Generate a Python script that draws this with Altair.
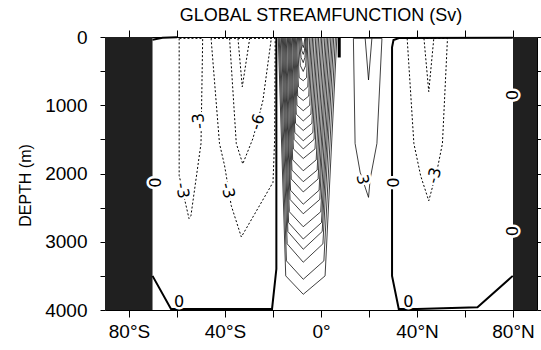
import altair as alt
import pandas as pd

FONT = "Liberation Sans"
LFONT = "DejaVu Sans"

# ---------------- data ----------------
# land masks (lat ranges, full depth)
land_lat_start = [-90, 80]
land_lat_end = [-70.2, 90]
land_depth_top = [0, 0]
land_depth_bottom = [4000, 4000]

# zero contours (thick)
zero_south_lat = [-70.2, -62.5, -20.4, -18.6, -18.6]
zero_south_depth = [3500, 3985, 3985, 3400, 0]
zero_south_surface_lat = [-70.2, -66.0, -60.0]
zero_south_surface_depth = [40, 12, 2]
zero_north_lat = [79.9, 32.5, 30.2, 29.6, 29.6, 32.4, 40.1, 65.2, 79.9]
zero_north_depth = [12, 15, 45, 150, 3500, 3985, 3985, 3960, 3500]
zero_eq_lat = [7.6, 7.6]
zero_eq_depth = [0, 300]

# negative (dashed) contours
neg_south3a_lat = [-59.1, -59.1, -55.0, -54.2, -50.0, -49.3, -59.1]
neg_south3a_depth = [20, 2030, 2660, 2620, 1560, 20, 20]
neg_south3b_lat = [-45.8, -42.3, -40.2, -37.4, -33.2, -20.0, -19.3, -19.1, -45.8]
neg_south3b_depth = [20, 1560, 1880, 2470, 2930, 2130, 1490, 20, 20]
neg_south6_lat = [-38.1, -35.3, -32.6, -28.4, -26.4, -24.2, -20.7]
neg_south6_depth = [20, 1560, 1860, 1490, 1240, 930, 20]
neg_south9_lat = [-34.6, -32.8, -29.7]
neg_south9_depth = [20, 730, 20]
neg_north3_lat = [35.9, 38.7, 41.5, 44.9, 48.5, 50.6, 52.7, 35.9]
neg_north3_depth = [20, 1560, 2030, 2400, 1930, 1560, 20, 20]
neg_north6_lat = [42.9, 44.9, 47.0]
neg_north6_depth = [20, 800, 20]

# positive thin contours, northern tropics
pos_north3_lat = [13.5, 14.2, 16.3, 19.8, 20.5, 23.3, 25.4, 13.5]
pos_north3_depth = [20, 1560, 1980, 2350, 2080, 1560, 20, 20]
pos_north6_lat = [18.4, 19.8, 21.2]
pos_north6_depth = [20, 630, 20]

# dense positive cell (nested V-shaped contours)
cell_top_depth = 10
cell_apex_lat = -7.4
cell_apex_depth = [3770, 3550, 3300, 3110, 2960, 2780, 2590, 2450, 2270, 2120, 1960, 1780,
                   1640, 1520, 1370, 1230, 1080, 930, 790, 640, 505, 375, 255, 155]
cell_knee_depth = [3500, 3280, 3030, 2850, 2720, 2560, 2380, 2245, 2080, 1950, 1800, 1640,
                   1500, 1400, 1265, 1130, 1000, 865, 730, 595, 420, 300, 200, 110]
cell_left_top_lat = [-17.8, -17.4, -17.0, -16.5, -16.1, -15.7, -15.3, -14.9, -14.5, -14.0, -13.6, -13.2,
                     -12.8, -12.4, -11.9, -11.5, -11.1, -10.7, -10.3, -9.8, -9.4, -9.0, -8.6, -8.2]
cell_left_knee_lat = [-14.7, -14.4, -14.1, -13.8, -13.5, -13.2, -12.9, -12.7, -12.4, -12.1, -11.8, -11.5,
                      -11.2, -10.9, -10.6, -10.3, -10.0, -9.7, -9.4, -9.1, -8.6, -8.3, -8.0, -7.8]
cell_right_knee_lat = [1.7, 1.2, 0.8, 0.5, 0.2, -0.1, -0.5, -0.8, -1.2, -1.6, -2.0, -2.5,
                       -2.9, -3.4, -3.8, -4.2, -4.7, -5.1, -5.5, -6.0, -6.4, -6.7, -6.9, -7.1]
cell_right_top_lat = [6.6, 6.0, 5.3, 4.7, 4.1, 3.4, 2.8, 2.2, 1.6, 0.9, 0.3, -0.3,
                      -1.0, -1.6, -2.2, -2.9, -3.5, -4.1, -4.7, -5.4, -5.7, -6.1, -6.4, -6.7]

# contour labels
label_text = ["-3", "-6", "-3", "-3", "0", "0", "3", "0", "-3", "0", "0", "0"]
label_lat = [-50.9, -26.4, -57.8, -38.9, -69.5, -59.1, 17.2, 29.6, 47.3, 36.4, 79.2, 79.2]
label_depth = [1230, 1245, 2250, 2250, 2135, 3880, 2090, 2135, 2030, 3880, 2845, 850]
label_angle = [265, 287, 81, 77, 90, 0, 80, 90, 285, 0, 90, 90]

x_ticks = [-80, -60, -40, -20, 0, 20, 40, 60, 80]
y_ticks = [0, 500, 1000, 1500, 2000, 2500, 3000, 3500, 4000]

# ---------------- tables ----------------
def lines(groups):
    rows = []
    for name, lats, deps in groups:
        for k, (la, de) in enumerate(zip(lats, deps)):
            rows.append({"g": name, "k": k, "lat": la, "depth": de})
    return pd.DataFrame(rows)

land_df = pd.DataFrame({"lat0": land_lat_start, "lat1": land_lat_end,
                        "d0": land_depth_top, "d1": land_depth_bottom})
zero_df = lines([("zs", zero_south_lat, zero_south_depth),
                 ("zss", zero_south_surface_lat, zero_south_surface_depth),
                 ("zn", zero_north_lat, zero_north_depth)])
zero_eq_df = lines([("ze", zero_eq_lat, zero_eq_depth)])
neg_df = lines([("a", neg_south3a_lat, neg_south3a_depth),
                ("b", neg_south3b_lat, neg_south3b_depth),
                ("c", neg_south6_lat, neg_south6_depth),
                ("d", neg_south9_lat, neg_south9_depth),
                ("e", neg_north3_lat, neg_north3_depth),
                ("f", neg_north6_lat, neg_north6_depth)])
cell_groups = []
for i in range(len(cell_apex_depth)):
    cell_groups.append((f"c{i}",
                        [cell_left_top_lat[i], cell_left_knee_lat[i], cell_apex_lat,
                         cell_right_knee_lat[i], cell_right_top_lat[i]],
                        [cell_top_depth, cell_knee_depth[i], cell_apex_depth[i],
                         cell_knee_depth[i], cell_top_depth]))
cell_groups += [("p3", pos_north3_lat, pos_north3_depth), ("p6", pos_north6_lat, pos_north6_depth)]
pos_df = lines(cell_groups)
lab_df = pd.DataFrame({"t": label_text, "lat": label_lat, "depth": label_depth, "ang": label_angle})

# ---------------- scales / axes ----------------
xs = alt.Scale(domain=[-90, 90], nice=False, zero=False)
ys = alt.Scale(domain=[0, 4000], reverse=True, nice=False, zero=False)

x_bottom = alt.Axis(values=x_ticks, tickSize=7, labelFlush=False, labelOverlap=False,
                    labelExpr="datum.value % 40 != 0 ? '' : (datum.value < 0 ? (-datum.value) + '°S' : (datum.value > 0 ? datum.value + '°N' : '0°'))",
                    labelFont=FONT, labelFontSize=19, labelPadding=5, labelColor="black",
                    tickColor="black", domainColor="black", grid=False, title=None)
y_left = alt.Axis(values=y_ticks, tickSize=5, labelFlush=False, labelOverlap=False,
                  labelExpr="datum.value % 1000 == 0 ? '' + datum.value : ''",
                  labelFont=FONT, labelFontSize=19, labelPadding=13, labelColor="black",
                  tickColor="black", domainColor="black", grid=False,
                  title="DEPTH (m)", titleFont=FONT, titleFontSize=16, titleFontWeight="normal",
                  titleColor="black", titleAngle=270, titleAlign="center", titleBaseline="middle",
                  titleX=-80, titleY=148)
x_top = alt.Axis(orient="top", values=x_ticks, tickSize=7, labels=False, title=None, grid=False,
                 tickColor="black", domainColor="black")
y_right = alt.Axis(orient="right", values=y_ticks, tickSize=5, labels=False, title=None, grid=False,
                   tickColor="black", domainColor="black")

land = alt.Chart(land_df).mark_rect(color="#202020").encode(
    x=alt.X("lat0:Q", scale=xs, axis=x_bottom), x2="lat1",
    y=alt.Y("d0:Q", scale=ys, axis=y_left), y2="d1")

pos = alt.Chart(pos_df).mark_line(color="black", strokeWidth=0.75).encode(
    x=alt.X("lat:Q", scale=xs, axis=x_top), y=alt.Y("depth:Q", scale=ys, axis=y_right),
    detail="g:N", order="k:Q")

neg = alt.Chart(neg_df).mark_line(color="black", strokeWidth=1, strokeDash=[2, 2]).encode(
    x=alt.X("lat:Q", scale=xs, axis=None), y=alt.Y("depth:Q", scale=ys, axis=None),
    detail="g:N", order="k:Q")

zero = alt.Chart(zero_df).mark_line(color="black", strokeWidth=2).encode(
    x=alt.X("lat:Q", scale=xs, axis=None), y=alt.Y("depth:Q", scale=ys, axis=None),
    detail="g:N", order="k:Q")

zero_eq = alt.Chart(zero_eq_df).mark_line(color="black", strokeWidth=3).encode(
    x=alt.X("lat:Q", scale=xs, axis=None), y=alt.Y("depth:Q", scale=ys, axis=None),
    detail="g:N", order="k:Q")

halo = alt.Chart(lab_df).mark_text(font=LFONT, fontSize=16, color="white", stroke="white",
                                   strokeWidth=5, strokeJoin="round").encode(
    x=alt.X("lat:Q", scale=xs, axis=None), y=alt.Y("depth:Q", scale=ys, axis=None),
    text="t:N", angle=alt.Angle("ang:Q", scale=None))
labels = alt.Chart(lab_df).mark_text(font=LFONT, fontSize=16, color="black").encode(
    x=alt.X("lat:Q", scale=xs, axis=None), y=alt.Y("depth:Q", scale=ys, axis=None),
    text="t:N", angle=alt.Angle("ang:Q", scale=None))

chart = alt.layer(land, pos, neg, zero, zero_eq, halo, labels).resolve_axis(
    x="independent", y="independent"
).properties(
    width=432, height=273,
    autosize=alt.AutoSizeParams(type="none"),
    padding={"left": 105, "top": 37, "right": 4, "bottom": 40},
    title=alt.TitleParams("GLOBAL STREAMFUNCTION (Sv)", font=FONT, fontSize=18,
                          fontWeight="normal", color="black", anchor="middle", offset=3),
).configure_view(stroke=None).configure(background="white")

chart.save("out.html", embed_options={"renderer": "svg", "actions": False})
